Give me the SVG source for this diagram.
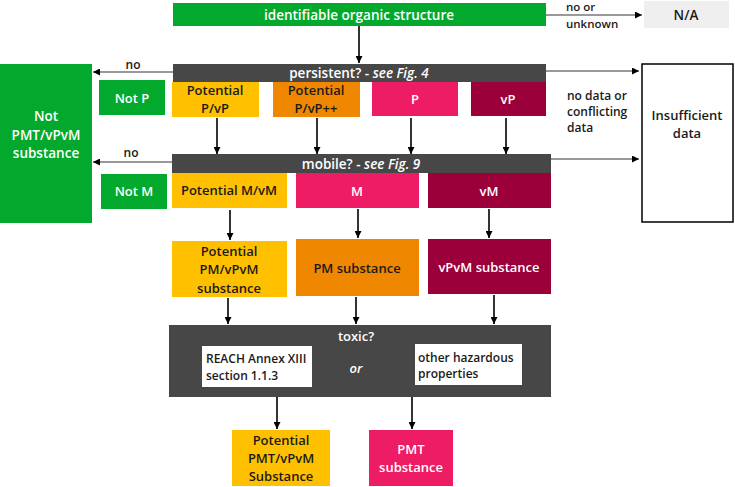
<svg xmlns="http://www.w3.org/2000/svg" width="735" height="487" viewBox="0 0 735 487">
<defs>
<marker id="ah" viewBox="0 0 10 10" refX="10" refY="5" markerWidth="7" markerHeight="7" markerUnits="userSpaceOnUse" orient="auto">
<path d="M0,0 L10,5 L0,10 z" fill="#000"/>
</marker>
<style>
text{font-family:"Open Sans","Liberation Sans",Arial,sans-serif;font-weight:600;font-size:13px;text-anchor:middle;dominant-baseline:central}
.w{fill:#fff}.d{fill:#1a1a1a}
.g{fill:#03A92C}.am{fill:#FFC000}.or{fill:#EF8700}.pk{fill:#EE1C64}.cr{fill:#9B003A}.dk{fill:#474747}
.c{stroke:#000;stroke-width:1.6;fill:none;marker-end:url(#ah)}
.cg{stroke:#777;stroke-width:1.3;fill:none;marker-end:url(#ah)}
.l{text-anchor:start}
.s{font-size:12px}
.t{font-size:11.5px}
.b{font-size:13.5px}
</style>
</defs>
<rect width="735" height="487" fill="#fff"/>
<g id="connectors">
<line class="c" x1="359" y1="26" x2="359" y2="63"/>
<line class="cg" x1="546" y1="15" x2="642" y2="15"/>
<line class="cg" x1="173" y1="72" x2="93" y2="72"/>
<line class="cg" x1="546" y1="71" x2="639" y2="71"/>
<line class="c" x1="217" y1="118" x2="217" y2="154"/>
<line class="c" x1="317" y1="118" x2="317" y2="154"/>
<line class="c" x1="411" y1="118" x2="411" y2="154"/>
<line class="c" x1="506" y1="118" x2="506" y2="154"/>
<line class="cg" x1="172" y1="162" x2="93" y2="162"/>
<line class="cg" x1="551" y1="159" x2="639" y2="159"/>
<line class="c" x1="230" y1="210" x2="230" y2="240"/>
<line class="c" x1="358" y1="209" x2="358" y2="238"/>
<line class="c" x1="489" y1="209" x2="489" y2="238"/>
<line class="c" x1="228" y1="298" x2="228" y2="324"/>
<line class="c" x1="356" y1="297" x2="356" y2="324"/>
<line class="c" x1="494" y1="295" x2="494" y2="324"/>
<line class="c" x1="277" y1="397" x2="277" y2="429"/>
<line class="c" x1="412" y1="397" x2="412" y2="429"/>
<text class="d s" x="133" y="64">no</text>
<text class="d s" x="131" y="152">no</text>
<text class="d t l" x="566" y="6">no or</text>
<text class="d t l" x="566" y="23">unknown</text>
<text class="d s l" x="567" y="95">no data or</text>
<text class="d s l" x="567" y="111">conflicting</text>
<text class="d s l" x="567" y="127">data</text>
</g>
<g id="identifiable"><rect class="g" x="173" y="3" width="373" height="23"/><text class="w b" x="359" y="15">identifiable organic structure</text></g>
<g id="na"><rect fill="#EFEFEF" x="644" y="1" width="85" height="27"/><text class="d b" x="686" y="15">N/A</text></g>
<g id="persistent"><rect class="dk" x="173" y="64" width="373" height="18"/><text class="w b" x="359" y="73">persistent?  - <tspan font-style="italic">see Fig. 4</tspan></text></g>
<g id="notpmt"><rect class="g" x="0" y="64" width="92" height="159"/><text class="w b" x="46" y="116">Not</text><text class="w b" x="46" y="135">PMT/vPvM</text><text class="w b" x="46" y="153">substance</text></g>
<g id="insufficient"><rect x="642" y="64" width="91" height="158" fill="#fff" stroke="#000" stroke-width="1.5"/><text class="d" x="687" y="115">Insufficient</text><text class="d" x="687" y="133">data</text></g>
<g id="notp"><rect class="g" x="99" y="80" width="66" height="35"/><text class="w" x="132" y="98">Not P</text></g>
<g id="potpvp"><rect class="am" x="172" y="82" width="87" height="35"/><text class="d" x="215" y="90">Potential</text><text class="d" x="215" y="108">P/vP</text></g>
<g id="potpvppp"><rect class="or" x="273" y="82" width="87" height="35"/><text class="d" x="316" y="90">Potential</text><text class="d" x="316" y="108">P/vP++</text></g>
<g id="p"><rect class="pk" x="372" y="82" width="86" height="34"/><text class="w" x="415" y="99">P</text></g>
<g id="vp"><rect class="cr" x="471" y="82" width="75" height="34"/><text class="w" x="508" y="99">vP</text></g>
<g id="mobile"><rect class="dk" x="172" y="154" width="379" height="19"/><text class="w b" x="361" y="164">mobile?  - <tspan font-style="italic">see Fig. 9</tspan></text></g>
<g id="notm"><rect class="g" x="101" y="174" width="66" height="35"/><text class="w" x="134" y="191">Not M</text></g>
<g id="potmvm"><rect class="am" x="172" y="173" width="115" height="35"/><text class="d" x="229" y="190">Potential M/vM</text></g>
<g id="m"><rect class="pk" x="296" y="173" width="123" height="35"/><text class="w" x="357" y="191">M</text></g>
<g id="vm"><rect class="cr" x="428" y="173" width="123" height="35"/><text class="w" x="489" y="191">vM</text></g>
<g id="potpm"><rect class="am" x="172" y="241" width="115" height="56"/><text class="d" x="229" y="251">Potential</text><text class="d" x="229" y="269">PM/vPvM</text><text class="d" x="229" y="288">substance</text></g>
<g id="pm"><rect class="or" x="296" y="239" width="123" height="57"/><text class="d" x="357" y="268">PM substance</text></g>
<g id="vpvm"><rect class="cr" x="428" y="239" width="123" height="55"/><text class="w" x="489" y="267">vPvM substance</text></g>
<g id="toxic"><rect class="dk" x="169" y="325" width="382" height="72"/><text class="w" x="356" y="336">toxic?</text><text class="w" x="356" y="368" font-style="italic" font-size="15">or</text></g>
<g id="reach"><rect fill="#fff" x="202" y="346" width="110" height="41"/><text class="d l s" x="206" y="358">REACH Annex XIII</text><text class="d l s" x="206" y="375">section 1.1.3</text></g>
<g id="other"><rect fill="#fff" x="415" y="344" width="107" height="41"/><text class="d l s" x="418" y="357">other hazardous</text><text class="d l s" x="418" y="373">properties</text></g>
<g id="potpmt"><rect class="am" x="232" y="430" width="98" height="56"/><text class="d" x="281" y="440">Potential</text><text class="d" x="281" y="458">PMT/vPvM</text><text class="d" x="281" y="476">Substance</text></g>
<g id="pmt"><rect class="pk" x="369" y="430" width="84" height="56"/><text class="w" x="411" y="449">PMT</text><text class="w" x="411" y="467">substance</text></g>
</svg>
